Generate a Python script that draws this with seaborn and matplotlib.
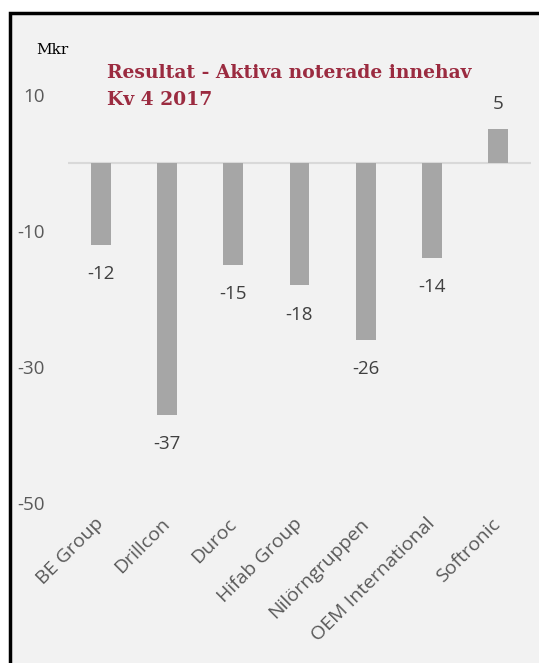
import pandas as pd
import matplotlib.pyplot as plt
import seaborn as sns
from matplotlib.patches import Rectangle

companies = ['BE Group', 'Drillcon', 'Duroc', 'Hifab Group', 'Nilörngruppen',
             'OEM International', 'Softronic']
results = [-12, -37, -15, -18, -26, -14, 5]
y_ticks = [10, -10, -30, -50]

df = pd.DataFrame({'company': companies, 'result': results})

sns.set_theme(style='white')
plt.rcParams['font.family'] = ['Open Sans', 'DejaVu Sans']

fig = plt.figure(figsize=(5.39, 6.63), dpi=100)
fig.patch.set_facecolor('white')
bg = Rectangle((10 / 539, -0.1), 1.2, 1.1 - 13 / 663, transform=fig.transFigure,
               facecolor='#f2f2f2', edgecolor='black', linewidth=2.5, zorder=-5)
fig.patches.append(bg)

ax = fig.add_axes([68 / 539, 1 - 503 / 663, 463 / 539, 408 / 663])
ax.set_facecolor('none')
ax.set_zorder(2)

sns.barplot(data=df, x='company', y='result', color='#a6a6a6', width=0.3,
            saturation=1, linewidth=0, ax=ax, zorder=2)

ax.axhline(0, color='#d9d9d9', linewidth=1.5, zorder=1)
ax.set_ylim(-50, 10)
ax.set_yticks(y_ticks)
ax.set_yticklabels([str(t) for t in y_ticks])
ax.tick_params(axis='y', length=0, pad=17, labelsize=13.5, labelcolor='#595959')
ax.tick_params(axis='x', length=0, pad=13, labelsize=14, labelcolor='#595959')
for lbl in ax.get_yticklabels():
    lbl.set_horizontalalignment('right')
plt.setp(ax.get_xticklabels(), rotation=45, ha='right', va='center',
         rotation_mode='anchor')
ax.set_xlabel('')
ax.set_ylabel('')
for s in ax.spines.values():
    s.set_visible(False)

for i, v in enumerate(results):
    off = 18 if v > 0 else -21
    ax.annotate(str(v), (i, v), textcoords='offset points', xytext=(0, off),
                ha='center', va='center', fontsize=13.5, color='#404040')

fig.text(36 / 539, 1 - 50 / 663, 'Mkr', family=['DejaVu Serif'],
         fontsize=11, color='black', va='center')
fig.text(107 / 539, 1 - 64 / 663, 'Resultat - Aktiva noterade innehav\nKv 4 2017',
         family=['DejaVu Serif'], fontsize=13.5, fontweight='bold', color='#9b2b40',
         va='top', ha='left', linespacing=1.65)

plt.savefig('out.png', dpi=100)
